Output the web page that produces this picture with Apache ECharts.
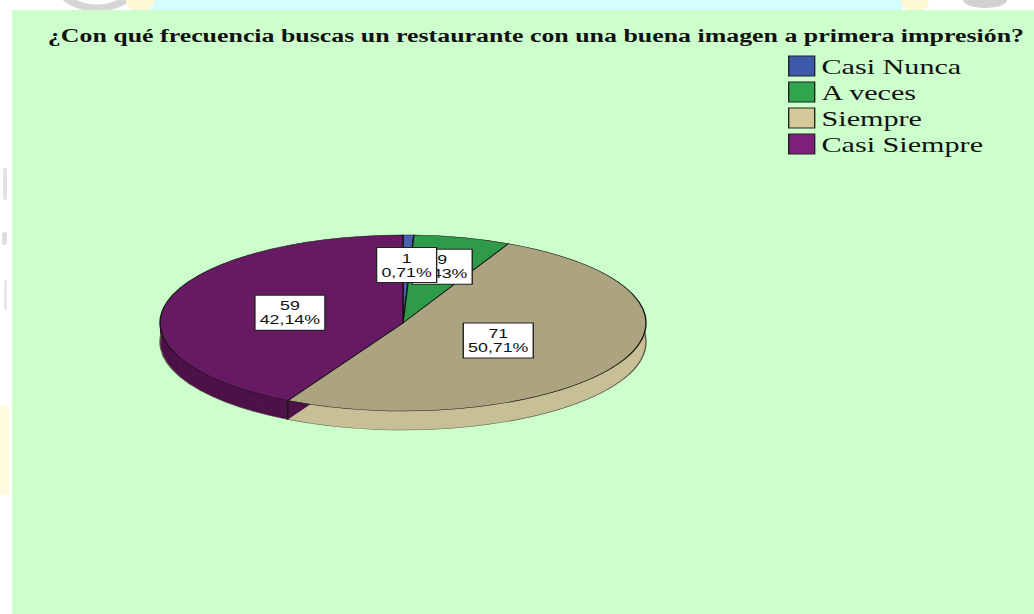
<!DOCTYPE html>
<html>
<head>
<meta charset="utf-8">
<script src="https://cdn.jsdelivr.net/npm/echarts@6/dist/echarts.min.js"></script>
<style>
  html, body { margin: 0; padding: 0; background: #ffffff; overflow: hidden; }
  /* The chart is laid out in a narrower box and widened horizontally on screen. */
  #chart { position: absolute; left: 0; top: 0; width: 755px; height: 614px;
           transform-origin: 0 0; transform: scaleX(1.36954); }
</style>
</head>
<body>
<div id="chart"></div>
<script>
// ---- data ----
const titleText = '¿Con qué frecuencia buscas un restaurante con una buena imagen a primera impresión?';
const categories = ['Casi Nunca', 'A veces', 'Siempre', 'Casi Siempre'];
const counts = [1, 9, 71, 59];

// ---- styling ----
const legendColors = ['#3c59ab', '#2fa64d', '#d5c899', '#7d1f7b'];
const faceColors   = ['#4a5fb0', '#2e9b48', '#aca480', '#661a62'];
const sideColors   = ['#34477f', '#22733a', '#c7c096', '#4e1249'];
const labelRadius  = [0.66, 0.66, 0.44, 0.48];   // label distance along the slice bisector

const STRETCH = 1034 / 755;          // horizontal widening applied by CSS
const sx = v => v / STRETCH;         // screen x -> chart x

// pie geometry (screen pixels)
const PIE = { cx: 403, cy: 323, rx: 243, ry: 88, depth: 19 };

const total = counts.reduce((a, b) => a + b, 0);
const starts = counts.map((_, i) => counts.slice(0, i).reduce((a, b) => a + b, 0));
const pctText = v => (v / total * 100).toFixed(2).replace('.', ',') + '%';

function makeRenderItem(i) {
  return function (params, api) {
    const value = api.value(0);
    const before = api.value(1);
    const a0 = before / total * 2 * Math.PI;          // clockwise from 12 o'clock
    const a1 = (before + value) / total * 2 * Math.PI;
    const cx = sx(PIE.cx), cy = PIE.cy, r = sx(PIE.rx), ry = PIE.ry;
    const k = ry / r;
    const sector = (yOff, style, z2) => ({
      type: 'sector',
      shape: { cx: cx, cy: cy, r: r, r0: 0,
               startAngle: a0 - Math.PI / 2, endAngle: a1 - Math.PI / 2, clockwise: true },
      originX: cx, originY: cy, scaleY: k, y: yOff,
      style: style, z2: z2, silent: true
    });
    const children = [];
    // extruded side of the disc
    for (let d = PIE.depth; d >= 1; d--) {
      children.push(sector(d, { fill: sideColors[i] }, 1));
    }
    // lower rim outline
    children.push({
      type: 'arc',
      shape: { cx: cx, cy: cy, r: r,
               startAngle: a0 - Math.PI / 2, endAngle: a1 - Math.PI / 2, clockwise: true },
      originX: cx, originY: cy, scaleY: k, y: PIE.depth,
      style: { stroke: '#5a5a48', lineWidth: 1, fill: null, strokeNoScale: true },
      z2: 2, silent: true
    });
    // slice edge running down the visible side
    if (Math.cos(a0) < 0) {
      const x0 = cx + r * Math.sin(a0), y0 = cy - ry * Math.cos(a0);
      children.push({
        type: 'line',
        shape: { x1: x0, y1: y0, x2: x0, y2: y0 + PIE.depth },
        style: { stroke: '#1a1a1a', lineWidth: 1 }, z2: 3, silent: true
      });
    }
    // top face
    children.push(sector(0, { fill: faceColors[i], stroke: '#141414', lineWidth: 1, strokeNoScale: true }, 10));
    // value label
    const mid = (a0 + a1) / 2, f = labelRadius[i];
    children.push({
      type: 'text',
      x: cx + r * Math.sin(mid) * f,
      y: cy - ry * Math.cos(mid) * f,
      z2: 30 - i, silent: true,
      style: {
        text: value + '\n' + pctText(value),
        fill: '#111111',
        fontFamily: '"Liberation Sans", Arial, sans-serif',
        fontSize: 13, lineHeight: 14,
        align: 'center', verticalAlign: 'middle',
        backgroundColor: '#ffffff', borderColor: '#222222', borderWidth: 1,
        padding: [3, 3, 3, 3]
      }
    });
    return { type: 'group', children: children };
  };
}

const chart = echarts.init(document.getElementById('chart'), null, { renderer: 'svg' });

chart.setOption({
  animation: false,
  backgroundColor: '#ffffff',
  graphic: [
    // page strip and faint watermark fragments around the panel
    { type: 'rect', z: 0, shape: { x: sx(150), y: 0, width: sx(752), height: 10 }, style: { fill: '#d6fdfd' } },
    { type: 'circle', z: 0, shape: { cx: sx(97), cy: -22, r: 30 }, style: { fill: 'none', stroke: '#d6d6d6', lineWidth: 7 } },
    { type: 'ellipse', z: 0, shape: { cx: sx(140), cy: 2, rx: sx(14), ry: 9 }, style: { fill: '#fff8d2' } },
    { type: 'ellipse', z: 0, shape: { cx: sx(915), cy: 2, rx: sx(14), ry: 9 }, style: { fill: '#fff8d2' } },
    { type: 'ellipse', z: 0, shape: { cx: sx(985), cy: 0, rx: sx(22), ry: 8 }, style: { fill: '#d2d2d2' } },
    { type: 'rect', z: 0, shape: { x: sx(3), y: 168, width: sx(4), height: 32, r: 2 }, style: { fill: '#e2e2e2' } },
    { type: 'rect', z: 0, shape: { x: sx(2), y: 232, width: sx(5), height: 13, r: 2 }, style: { fill: '#dedede' } },
    { type: 'rect', z: 0, shape: { x: sx(4), y: 280, width: sx(3), height: 30, r: 2 }, style: { fill: '#e8e8e8' } },
    { type: 'rect', z: 0, shape: { x: 0, y: 405, width: sx(9), height: 90, r: 3 }, style: { fill: '#fffadf' } },
    // chart panel
    { type: 'rect', z: 1, shape: { x: sx(12), y: 10, width: 760, height: 620 }, style: { fill: '#ccffcc' } }
  ],
  title: {
    text: titleText,
    left: sx(41), top: 21,
    textStyle: {
      fontFamily: '"Liberation Serif", "Times New Roman", serif',
      fontWeight: 'bold', fontSize: 18.9, color: '#111111'
    }
  },
  legend: {
    data: categories.map((n, i) => ({
      name: n,
      itemStyle: { color: legendColors[i], borderColor: '#222222', borderWidth: 1 }
    })),
    orient: 'vertical',
    left: sx(788) - 5, top: 50,
    icon: 'rect', itemWidth: sx(26), itemHeight: 20, itemGap: 4,
    selectedMode: false,
    textStyle: {
      fontFamily: '"Liberation Serif", "Times New Roman", serif',
      fontSize: 22, lineHeight: 21, color: '#111111'
    }
  },
  series: categories.map((name, i) => ({
    type: 'custom',
    name: name,
    coordinateSystem: 'none',
    itemStyle: { color: legendColors[i] },
    renderItem: makeRenderItem(i),
    data: [[counts[i], starts[i]]]
  }))
});
</script>
</body>
</html>
